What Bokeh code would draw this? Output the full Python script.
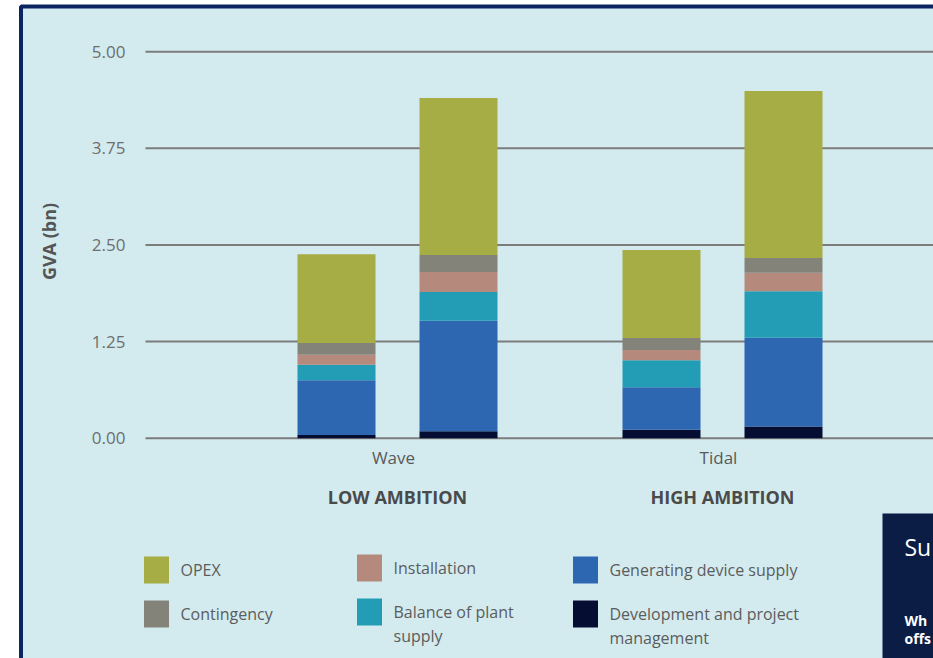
import math
from bokeh.plotting import figure
from bokeh.models import Range1d, ColumnDataSource
from bokeh.embed import file_html
from bokeh.resources import INLINE
from bokeh.core.properties import value

# ---------------- data ----------------
groups = ["Wave", "Tidal"]
scenarios = ["LOW AMBITION", "HIGH AMBITION"]
components = ["Development and project management", "Generating device supply",
              "Balance of plant supply", "Installation", "Contingency", "OPEX"]
# bar order: Wave (low), Wave (high), Tidal (low), Tidal (high)
bar_group = [0, 0, 1, 1]
bar_side = [-1, 1, -1, 1]
dev = [0.04, 0.09, 0.11, 0.15]
gen = [0.71, 1.43, 0.55, 1.15]
bop = [0.20, 0.37, 0.35, 0.60]
inst = [0.13, 0.26, 0.13, 0.24]
cont = [0.15, 0.22, 0.155, 0.19]
opex = [1.15, 2.03, 1.14, 2.16]
y_ticks = [0.0, 1.25, 2.5, 3.75, 5.0]
y_label = "GVA (bn)"
legend_order = ["OPEX", "Contingency", "Installation", "Balance of plant supply",
                "Generating device supply", "Development and project management"]
legend_wrapped = {"Balance of plant supply": "Balance of plant\nsupply",
                  "Development and project management": "Development and project\nmanagement"}
side_title = "Su"
side_text = "Wh\noffs"

colors = {"OPEX": "#a6ad45", "Contingency": "#83837a", "Installation": "#b5897c",
          "Balance of plant supply": "#239db5", "Generating device supply": "#2d67b2",
          "Development and project management": "#060d33"}

W, H = 933, 658
zero_px, unit_px = 437.7, 77.3
grp_px, grp0_px = 325.0, 397.0
FONT = value("Open Sans")

p = figure(width=W, height=H, output_backend="svg", toolbar_location=None,
           x_axis_type=None, y_axis_type=None, min_border=0,
           x_range=Range1d(-grp0_px / grp_px, (W - grp0_px) / grp_px),
           y_range=Range1d(-(H - zero_px) / unit_px, zero_px / unit_px))
p.extra_x_ranges = {"px": Range1d(0, W)}
p.extra_y_ranges = {"px": Range1d(H, 0)}
p.outline_line_color = None
p.background_fill_color = "white"
p.border_fill_color = "white"
p.grid.visible = False

# panel
p.quad(left=[20.5], right=[W + 20], top=[6], bottom=[H + 20], fill_color="#d3ebef",
       line_color="#0c2462", line_width=4, x_range_name="px", y_range_name="px")

# gridlines + tick labels
p.segment(x0=[145] * len(y_ticks), x1=[W] * len(y_ticks), y0=y_ticks, y1=y_ticks,
          line_color="#7c7c7c", line_width=2, x_range_name="px")
p.text(x=[125] * len(y_ticks), y=y_ticks, text=[f"{t:.2f}" for t in y_ticks],
       text_font=FONT, text_font_size="17px", text_color="#6e6e6e",
       text_align="right", text_baseline="middle", x_range_name="px")
p.text(x=[48], y=[241], text=[y_label], angle=math.pi / 2, text_font=FONT,
       text_font_size="18px", text_font_style="bold", text_color="#555555",
       text_align="center", text_baseline="middle", x_range_name="px", y_range_name="px")

# bars
off = 61.0 / grp_px
src = ColumnDataSource(dict(
    x=[g + s * off for g, s in zip(bar_group, bar_side)],
    **{"Development and project management": dev, "Generating device supply": gen,
       "Balance of plant supply": bop, "Installation": inst, "Contingency": cont, "OPEX": opex}))
p.vbar_stack(components, x="x", width=78.0 / grp_px, source=src,
             color=[colors[c] for c in components], line_width=0)

# category labels
p.text(x=[g - 4.0 / grp_px for g in range(len(groups))], y=[457] * len(groups), text=groups,
       text_font=FONT, text_font_size="17px", text_color="#5a5a5a", text_align="center",
       text_baseline="middle", y_range_name="px")
p.text(x=list(range(len(scenarios))), y=[496] * len(scenarios), text=scenarios, text_font=FONT,
       text_font_size="18px", text_font_style="bold", text_color="#4a4a4a",
       text_align="center", text_baseline="middle", y_range_name="px")

# legend (3 columns x 2 rows)
col_x = [143, 356, 572]
row_y = [569.5, 613.5]
sq, lh = 26, 24
lx, ly, labels, sx, sy, sc = [], [], [], [], [], []
for i, name in enumerate(legend_order):
    c, r = divmod(i, 2)
    cy = row_y[r] - (2 if c == 1 else 0)
    sx.append(col_x[c] + sq / 2)
    sy.append(cy)
    sc.append(colors[name])
    txt = legend_wrapped.get(name, name)
    n = txt.count("\n") + 1
    labels.append(txt)
    lx.append(col_x[c] + 37)
    ly.append(cy + (n - 1) * lh / 2)
p.rect(x=sx, y=sy, width=sq - 1, height=sq + 1, fill_color=sc, line_color=None,
       x_range_name="px", y_range_name="px")
p.text(x=lx, y=ly, text=labels, text_font=FONT, text_font_size="16px", text_color="#5c5c5c",
       text_align="left", text_baseline="middle", text_line_height=1.09,
       x_range_name="px", y_range_name="px")

# dark side box (partially visible)
p.quad(left=[882], right=[W + 30], top=[513], bottom=[H + 30], fill_color="#0b1d44",
       line_color=None, x_range_name="px", y_range_name="px")
p.text(x=[904], y=[546], text=[side_title], text_font=FONT, text_font_size="23px",
       text_color="white", text_baseline="middle", x_range_name="px", y_range_name="px")
p.text(x=[904], y=[610], text=[side_text], text_font=FONT,
       text_font_size="14px", text_font_style="bold", text_color="white",
       text_baseline="top", text_line_height=0.95, x_range_name="px", y_range_name="px")

open("out.html", "w").write(file_html(p, INLINE))
